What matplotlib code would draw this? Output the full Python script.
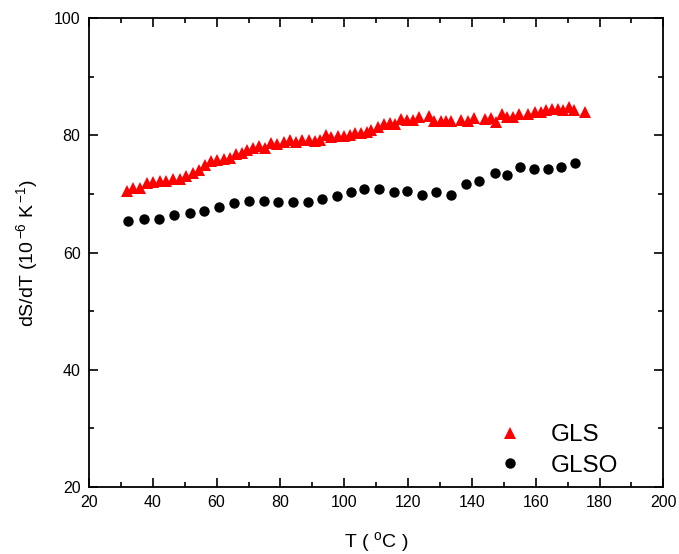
import matplotlib
matplotlib.use("Agg")
from matplotlib import pyplot as plt
from matplotlib.ticker import MultipleLocator

plt.rcParams['font.family'] = ['Liberation Sans', 'DejaVu Sans']
plt.rcParams['mathtext.default'] = 'regular'

# GLS (red triangles)
gls_t = [31.9, 33.9, 36.0, 38.1, 40.1, 42.2, 44.3, 46.3, 48.4, 50.5,
         52.6, 54.6, 56.4, 58.3, 60.1, 62.2, 64.3, 66.0, 67.9, 69.6,
         71.4, 73.3, 75.3, 77.2, 78.9, 81.0, 83.1, 84.8, 86.9, 88.8,
         90.7, 92.4, 94.2, 96.0, 97.9, 100.0, 101.7, 103.5, 105.3, 107.2,
         108.5, 110.5, 112.3, 114.2, 116.0, 117.8, 119.6, 121.4, 123.3, 126.4,
         128.1, 130.2, 132.0, 133.6, 136.7, 138.8, 140.6, 144.0, 146.0, 147.6,
         149.4, 151.1, 153.0, 154.7, 157.6, 159.7, 161.5, 163.3, 165.1, 167.0,
         168.5, 170.4, 172.1, 175.5]
gls_v = [70.5, 71.0, 71.1, 71.8, 72.1, 72.2, 72.2, 72.5, 72.6, 73.0,
         73.6, 74.1, 74.9, 75.6, 75.8, 75.9, 76.2, 76.9, 77.0, 77.5,
         77.8, 78.2, 77.9, 78.7, 78.6, 78.9, 79.2, 78.8, 79.2, 79.3,
         79.1, 79.2, 80.0, 79.7, 79.9, 79.9, 80.0, 80.4, 80.5, 80.6,
         80.9, 81.5, 82.0, 82.2, 82.0, 82.8, 82.6, 82.6, 83.2, 83.3,
         82.4, 82.4, 82.4, 82.4, 82.6, 82.4, 82.9, 82.8, 82.9, 82.3,
         83.7, 83.2, 83.2, 83.6, 83.7, 84.0, 84.0, 84.3, 84.6, 84.6,
         84.3, 84.9, 84.3, 84.0]

# GLSO (black circles)
glso_t = [32.2, 37.2, 41.9, 46.8, 51.6, 56.1, 60.9, 65.6, 70.1, 74.7,
          79.3, 83.8, 88.5, 93.1, 97.6, 102.1, 106.2, 110.9, 115.5, 119.8,
          124.5, 128.9, 133.5, 138.1, 142.3, 147.1, 151.0, 155.2, 159.6, 163.9,
          168.0, 172.3]
glso_v = [65.4, 65.7, 65.8, 66.5, 66.7, 67.1, 67.8, 68.5, 68.8, 68.8,
          68.7, 68.7, 68.7, 69.1, 69.6, 70.3, 70.8, 70.8, 70.3, 70.6,
          69.8, 70.3, 69.9, 71.7, 72.2, 73.6, 73.3, 74.6, 74.2, 74.3,
          74.6, 75.3]

fig = plt.figure(figsize=(6.79, 5.54), dpi=100)
ax = fig.add_axes([0.131, 0.121, 0.846, 0.846])

ax.plot(gls_t, gls_v, linestyle='none', marker='^', ms=8.5, color='#ff0000',
        markeredgewidth=0, label='GLS')
ax.plot(glso_t, glso_v, linestyle='none', marker='o', ms=7.5, color='black',
        markeredgewidth=0, label='GLSO')

ax.set_xlim(20, 200)
ax.set_ylim(20, 100)
ax.xaxis.set_major_locator(MultipleLocator(20))
ax.xaxis.set_minor_locator(MultipleLocator(10))
ax.yaxis.set_major_locator(MultipleLocator(20))
ax.yaxis.set_minor_locator(MultipleLocator(10))
ax.tick_params(which='both', direction='in', top=True, right=True,
               width=1.2, labelsize=11.5)
ax.tick_params(which='major', length=6.5, pad=6)
ax.tick_params(which='minor', length=3.5)
for s in ax.spines.values():
    s.set_linewidth(1.3)

ax.set_xlabel('T ( $^{o}$C )', fontsize=14, labelpad=14)
ax.set_ylabel('dS/dT (10$^{\\,{-}6}$ K$^{\\,{-}1}$)', fontsize=14, labelpad=10)

ax.legend(loc='lower right', bbox_to_anchor=(0.96, -0.025), frameon=False,
          fontsize=17.5, handletextpad=0.7, labelspacing=0.35, markerscale=1.0)

fig.savefig('out.png', dpi=100)
